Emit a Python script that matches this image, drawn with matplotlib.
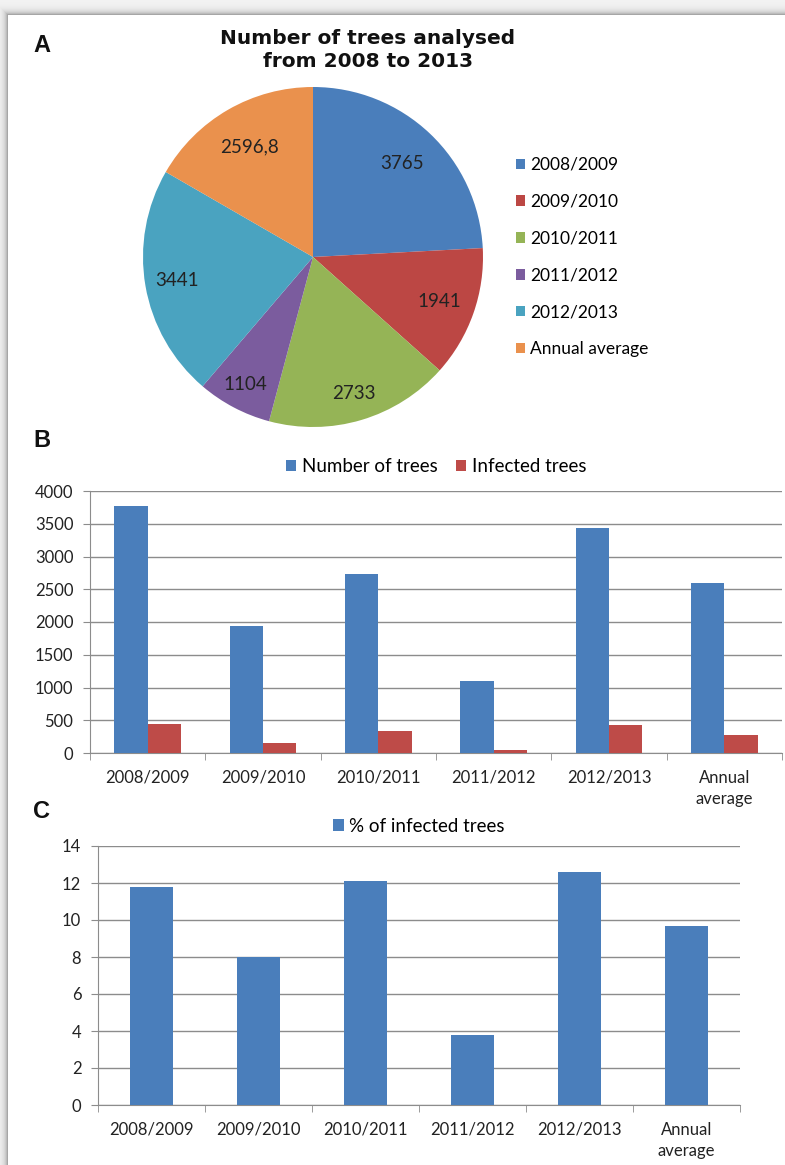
import matplotlib
matplotlib.use("Agg")
import matplotlib.pyplot as plt
import numpy as np

# data
seasons = ["2008/2009", "2009/2010", "2010/2011", "2011/2012", "2012/2013", "Annual average"]
bar_labels = ["2008/2009", "2009/2010", "2010/2011", "2011/2012", "2012/2013", "Annual\naverage"]
trees = [3765, 1941, 2733, 1104, 3441, 2596.8]
tree_text = ["3765", "1941", "2733", "1104", "3441", "2596,8"]
infected = [445, 155, 330, 42, 435, 280]
pct_infected = [11.8, 8.0, 12.1, 3.8, 12.6, 9.65]

pie_colors = ["#4a7ebb", "#bc4744", "#95b456", "#7b5c9e", "#4aa3c0", "#ea914d"]
label_dist = [0.76, 0.79, 0.84, 0.85, 0.81, 0.75]
BLUE = "#4a7ebb"
RED = "#be4b48"
GRID = "#8c8c8c"
TXT = "#222222"

plt.rcParams['font.family'] = ['Lato', 'DejaVu Sans']

W, H = 785, 1165
fig = plt.figure(figsize=(W / 100, H / 100), dpi=100)


def box(x0, y0, x1, y1):
    # pixel box (top-left origin) -> figure fraction rect
    return [x0 / W, 1 - y1 / H, (x1 - x0) / W, (y1 - y0) / H]


# page background with a soft shadow on the top and left edges
bg = fig.add_axes([0, 0, 1, 1])
yy, xx = np.mgrid[0:H, 0:W]
d = np.maximum(np.clip(8 - xx, 0, None), np.clip(15 - yy, 0, None))
shade = 0.95 - 0.3 * np.exp(-(d - 1) / 3.0)
shade[(xx >= 8) & (yy >= 15)] = 1.0
bg.imshow(shade, cmap="gray", vmin=0, vmax=1, aspect="auto", interpolation="bilinear")
bg.set_axis_off()

# ---- A: pie ----
axa = fig.add_axes(box(143, 87, 483, 427))
wedges, _ = axa.pie(trees, colors=pie_colors, startangle=90, counterclock=False,
                    wedgeprops=dict(linewidth=0))
for wdg, txt, r in zip(wedges, tree_text, label_dist):
    ang = np.deg2rad((wdg.theta1 + wdg.theta2) / 2)
    axa.text(r * np.cos(ang), r * np.sin(ang), txt, ha="center", va="center",
             fontsize=13.5, color=TXT)
axa.set_xlim(-1, 1)
axa.set_ylim(-1, 1)
axa.set_aspect("equal")
axa.legend(wedges, seasons, loc="center left", bbox_to_anchor=(500 / W, 1 - 257 / H),
           bbox_transform=fig.transFigure, frameon=False, fontsize=12.5,
           handlelength=0.55, handleheight=0.55, handletextpad=0.3, labelspacing=1.2)
fig.text(368 / W, 1 - 50 / H, "Number of trees analysed\nfrom 2008 to 2013", ha="center",
         va="center", fontsize=14.5, fontweight="bold", color="#111111", linespacing=1.3,
         family=["DejaVu Sans"])

# ---- B: trees and infected trees ----
x = np.arange(len(bar_labels))
axb = fig.add_axes(box(90, 491, 782, 753))
w = 0.29
axb.bar(x - w / 2, trees, w, color=BLUE, label="Number of trees", zorder=3)
axb.bar(x + w / 2, infected, w, color=RED, label="Infected trees", zorder=3)
axb.set_ylim(0, 4000)
axb.set_yticks(range(0, 4001, 500))

# ---- C: percentage of infected trees ----
axc = fig.add_axes(box(98, 846, 740, 1105))
axc.bar(x, pct_infected, 0.4, color=BLUE, label="% of infected trees", zorder=3)
axc.set_ylim(0, 14)
axc.set_yticks(range(0, 15, 2))

for ax, lpad in ((axb, 0.45), (axc, 0.2)):
    ax.set_xlim(-0.5, 5.5)
    ax.set_xticks(x, bar_labels)
    ax.set_xticks(np.arange(-0.5, 6, 1), minor=True)
    ax.tick_params(axis="x", which="major", length=0, pad=12, labelsize=12, labelcolor=TXT)
    ax.tick_params(axis="x", which="minor", length=5, color=GRID)
    ax.tick_params(axis="y", length=5, color=GRID, labelsize=12, labelcolor=TXT, pad=7)
    for t in ax.get_xticklabels():
        t.set_linespacing(1.4)
    ax.yaxis.grid(True, color=GRID, lw=1)
    ax.set_axisbelow(True)
    for s in ("top", "right"):
        ax.spines[s].set_visible(False)
    for s in ("left", "bottom"):
        ax.spines[s].set_color(GRID)
    ax.legend(loc="lower center", bbox_to_anchor=(0.5, 1.0), ncol=2, frameon=False,
              fontsize=13.5, handlelength=0.55, handleheight=0.55, handletextpad=0.3,
              columnspacing=1.0, borderaxespad=lpad)

for lab, (px, py) in zip("ABC", [(42, 46), (42, 440), (42, 812)]):
    fig.text(px / W, 1 - py / H, lab, ha="center", va="center", fontsize=17,
             fontweight="bold", family=["Liberation Sans", "DejaVu Sans"], color="#111111")

fig.savefig("out.png", dpi=100)
